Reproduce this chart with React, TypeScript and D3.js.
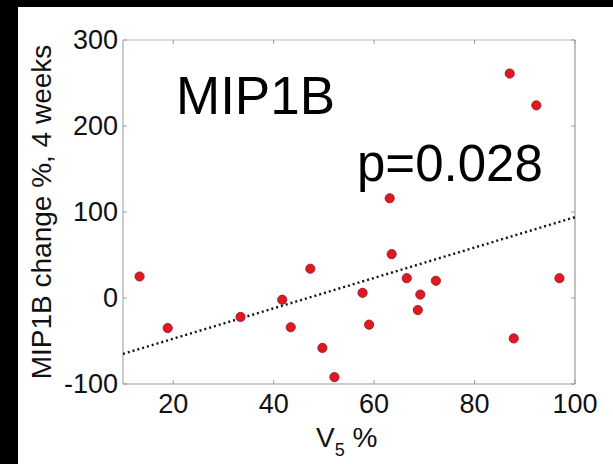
import React from "react";
import * as d3 from "d3";

const v5: number[] = [13.3, 18.9, 33.4, 41.7, 47.3, 43.4, 49.7, 52.1, 57.7, 59.0, 63.1, 63.5, 66.5, 69.2, 68.7, 72.3, 87.0, 87.8, 92.3, 96.9];
const mip1b: number[] = [25, -35, -22, -2, 34, -34, -58, -92, 6, -31, 116, 51, 23, 4, -14, 20, 261, -47, 224, 23];
const trendX: number[] = [10, 100];
const trendY: number[] = [-65, 94];
const xTicks: number[] = [20, 40, 60, 80, 100];
const yTicks: number[] = [-100, 0, 100, 200, 300];
const title = "MIP1B";
const pText = "p=0.028";
const yLabel = "MIP1B change %, 4 weeks";

const W = 613;
const H = 464;
const L = 123, R = 575, T = 40, B = 384;
const FONT = "'Liberation Sans', Arial, Helvetica, sans-serif";

export default function App() {
  const x = d3.scaleLinear().domain([10, 100]).range([L, R]);
  const y = d3.scaleLinear().domain([-100, 300]).range([B, T]);
  const line = d3.line<number>().x((d, i) => x(trendX[i])).y((d) => y(d));
  const axisColor = "#999";
  return (
    <svg width={W} height={H} style={{ position: "absolute", left: 0, top: 0 }} fontFamily={FONT}>
      <rect x={0} y={0} width={W} height={H} fill="#000" />
      <rect x={18} y={7} width={W - 18} height={H - 7} fill="#fff" />
      {/* axes box */}
      <line x1={L} x2={L} y1={T} y2={B} stroke={axisColor} strokeWidth={1} />
      <line x1={L} x2={R} y1={B} y2={B} stroke={axisColor} strokeWidth={1} />
      <line x1={L} x2={R} y1={T} y2={T} stroke="#bbb" strokeWidth={1} />
      <line x1={R} x2={R} y1={T} y2={B} stroke={axisColor} strokeWidth={1.2} />
      {xTicks.map((t) => (
        <g key={"xt" + t}>
          <line x1={x(t)} x2={x(t)} y1={B} y2={B - 4} stroke={axisColor} />
          <line x1={x(t)} x2={x(t)} y1={T} y2={T + 4} stroke={axisColor} />
          <text x={x(t)} y={413} fontSize={27} textAnchor="middle" fill="#111">{t}</text>
        </g>
      ))}
      {yTicks.map((t) => (
        <g key={"yt" + t}>
          <line x1={L} x2={L + 4} y1={y(t)} y2={y(t)} stroke={axisColor} />
          <line x1={R} x2={R - 4} y1={y(t)} y2={y(t)} stroke={axisColor} />
          <text x={118} y={y(t)} dy="0.33em" fontSize={27} textAnchor="end" fill="#111">{t}</text>
        </g>
      ))}
      {/* trend line */}
      <path d={line(trendY) || ""} fill="none" stroke="#111" strokeWidth={2.4} strokeDasharray="2 3" />
      {/* points */}
      {v5.map((v, i) => (
        <circle key={"p" + i} cx={x(v)} cy={y(mip1b[i])} r={4.6} fill="#e0191f" stroke="#9b1a2c" strokeWidth={0.9} />
      ))}
      <text x={176} y={114} fontSize={53} fill="#000">{title}</text>
      <text x={357} y={181} fontSize={51} fill="#000">{pText}</text>
      <text transform={`translate(41,${212}) rotate(-90)`} fontSize={28} textAnchor="middle" dy="0.35em" fill="#111">{yLabel}</text>
      <text x={316} y={447} fontSize={28} fill="#111">
        V<tspan fontSize={18} dy={9}>5</tspan><tspan dy={-9} fontSize={28}> %</tspan>
      </text>
    </svg>
  );
}
